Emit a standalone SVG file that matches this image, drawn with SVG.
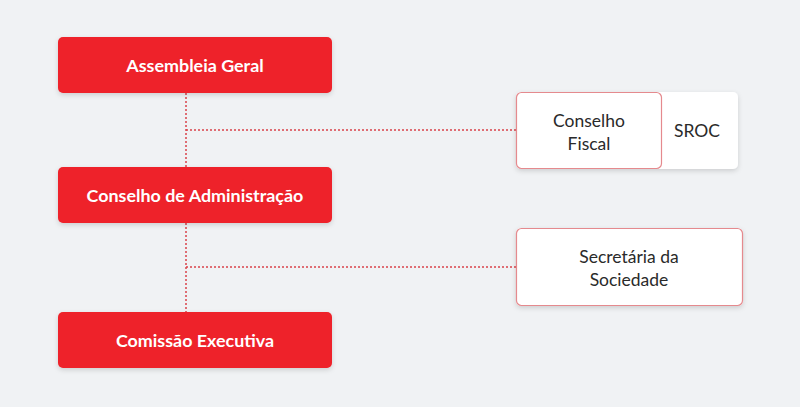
<svg xmlns="http://www.w3.org/2000/svg" width="800" height="407" viewBox="0 0 800 407">
<defs>
<filter id="sh" x="-20%" y="-30%" width="140%" height="170%">
<feDropShadow dx="0" dy="2" stdDeviation="2.5" flood-color="#000" flood-opacity="0.15"/>
</filter>
<style>
.red{fill:#EE2229;filter:url(#sh)}
.wh{fill:#FFFFFF;filter:url(#sh)}
.bd{fill:#FFFFFF;stroke:#E58A8E;stroke-width:1.2}
.tw{font-family:Lato,"Open Sans",sans-serif;font-weight:bold;font-size:17.9px;fill:#FFFFFF;text-anchor:middle}
.td{font-family:Lato,"Open Sans",sans-serif;font-size:17.5px;fill:#2A2A2A;text-anchor:middle}
.ln{stroke:#D9434A;stroke-width:1.5;stroke-dasharray:2 2;fill:none}
</style>
</defs>
<rect width="800" height="407" fill="#F0F2F4"/>
<g id="connectors">
<line class="ln" x1="186" y1="93" x2="186" y2="167"/>
<line class="ln" x1="186" y1="223" x2="186" y2="312"/>
<line class="ln" x1="186" y1="130" x2="516" y2="130"/>
<line class="ln" x1="186" y1="267" x2="516" y2="267"/>
</g>
<g id="assembleia">
<rect class="red" x="58" y="37" width="274" height="56" rx="5"/>
<text class="tw" x="195" y="72">Assembleia Geral</text>
</g>
<g id="conselho-admin">
<rect class="red" x="58" y="167" width="274" height="56" rx="5"/>
<text class="tw" x="195" y="202">Conselho de Administração</text>
</g>
<g id="comissao">
<rect class="red" x="58" y="312" width="274" height="56" rx="5"/>
<text class="tw" x="195" y="347">Comissão Executiva</text>
</g>
<g id="sroc">
<rect class="wh" x="516" y="92" width="222" height="77" rx="5"/>
<text class="td" x="697" y="137">SROC</text>
</g>
<g id="conselho-fiscal">
<rect class="bd" x="516.5" y="92.5" width="145" height="76" rx="5"/>
<text class="td" x="589" y="127">Conselho</text>
<text class="td" x="589" y="150">Fiscal</text>
</g>
<g id="secretaria">
<rect class="wh" x="516" y="228" width="227" height="78" rx="5"/>
<rect class="bd" x="516.5" y="228.5" width="226" height="77" rx="5"/>
<text class="td" x="629" y="263">Secretária da</text>
<text class="td" x="629" y="286">Sociedade</text>
</g>
</svg>
